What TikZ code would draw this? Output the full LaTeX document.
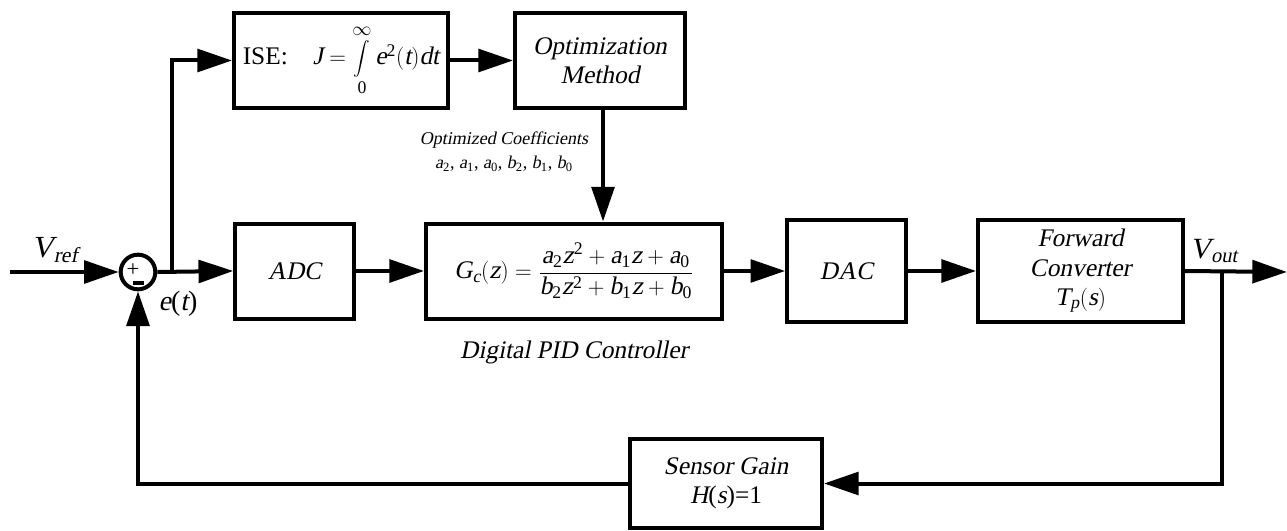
\documentclass[tikz,border=0pt]{standalone}
\usepackage{amsmath}
\usepackage{graphicx}
\usepackage{fontspec}
\setmainfont{Liberation Serif}[ItalicFont={Liberation Serif},ItalicFeatures={FakeSlant=0.2}]
\usetikzlibrary{arrows.meta}
\newcommand{\vi}[1]{\textit{#1}}
\newcommand{\vu}[1]{\textup{#1}}
\newcommand{\bigint}{\mathop{\vcenter{\hbox{\scalebox{0.72}{$\displaystyle\int$}}}}\limits}
\begin{document}
\begin{tikzpicture}[x=0.75pt,y=-0.75pt,
  blk/.style={draw, line width=3pt, inner sep=2pt, align=center,
    font=\fontsize{19}{22}\selectfont\itshape},
  arr/.style={line width=3pt, -{Triangle[length=26pt,width=17pt]}},
  lbl/.style={inner sep=0pt, font=\fontsize{19}{22}\selectfont\itshape},
  small/.style={inner sep=0pt, align=center, font=\fontsize{13.5}{16}\selectfont\itshape}
]
\useasboundingbox (0,0) rectangle (1287,531);

% blocks
\node[blk, minimum width=160.5pt, minimum height=71.25pt] (ise) at (341,60.5)
  {{\upshape ISE:}\quad $\vi{J} = \bigint_{\vu{0}}^{\infty} \vi{e}^{\vu{2}}(\vi{t})\vi{dt}$};
\node[blk, minimum width=127.5pt, minimum height=71.25pt] (opt) at (600,60.5)
  {Optimization\\Method};
\node[blk, minimum width=89pt, minimum height=71.25pt] (adc) at (294.5,271) {ADC};
\node[blk, minimum width=222pt, minimum height=71.25pt] (pid) at (574,271)
  {$\vi{G}_{\vi{c}}(\vi{z}) = \dfrac{\vi{a}_{\vu{2}}\vi{z}^{\vu{2}} + \vi{a}_{\vu{1}}\vi{z} + \vi{a}_{\vu{0}}}{\vi{b}_{\vu{2}}\vi{z}^{\vu{2}} + \vi{b}_{\vu{1}}\vi{z} + \vi{b}_{\vu{0}}}$};
\node[blk, minimum width=89pt, minimum height=76pt] (dac) at (846.5,271) {DAC};
\node[blk, minimum width=153.75pt, minimum height=76pt] (fc) at (1080.5,271)
  {Forward\\Converter\\$\vi{T}_{\vi{p}}(\vi{s})$};
\node[blk, minimum width=144pt, minimum height=66.75pt] (sen) at (726,483.5)
  {Sensor Gain\\{\upshape\vi{H}(\vi{s})=1}};

% summing junction
\node[draw, circle, line width=3pt, minimum size=26pt, inner sep=0pt] (sum) at (138,272) {};
\node[inner sep=0pt, font=\fontsize{17}{17}\selectfont] (plus) at (133,270) {+};
\node[inner sep=0pt] (minus) at (138.5,283) {\rule{8pt}{3pt}};

% labels
\node[lbl, font=\fontsize{23}{26}\selectfont\itshape] (vref) at (55,250) {V\textsubscript{ref}};
\node[lbl, font=\fontsize{22}{26}\selectfont\itshape] (vout) at (1214,251) {V\textsubscript{out}};
\node[lbl, font=\fontsize{21}{24}\selectfont\itshape] (et) at (178,304) {e{\upshape(}t{\upshape)}};
\node[small] (coef) at (504,140) {Optimized Coefficients};
\node[small, font=\fontsize{13.5}{16}\selectfont] (coefv) at (504,164)
  {\vi{a}\textsubscript{2}, \vi{a}\textsubscript{1}, \vi{a}\textsubscript{0}, \vi{b}\textsubscript{2}, \vi{b}\textsubscript{1}, \vi{b}\textsubscript{0}};
\node[lbl] (dpid) at (574,352) {Digital PID Controller};

% coordinates
\coordinate (in) at (10,272);
\coordinate (br) at (172,272);
\coordinate (ob) at (1222,272);
\coordinate (out) at (1287,272);

% connectors
\draw[arr] (in) -- (sum.west);
\draw[arr] (sum.east) -- (adc.west);
\draw[arr] (br) |- (ise.west);
\draw[arr] (ise.east) -- (opt.west);
\draw[arr] (opt.south -| 603,0) -- (pid.north -| 603,0);
\draw[arr] (adc.east) -- (pid.west);
\draw[arr] (pid.east) -- (dac.west);
\draw[arr] (dac.east) -- (fc.west);
\draw[arr] (fc.east) -- (out);
\draw[arr] (ob) |- (sen.east);
\draw[arr] (sen.west) -| (sum.south);
\end{tikzpicture}
\end{document}
